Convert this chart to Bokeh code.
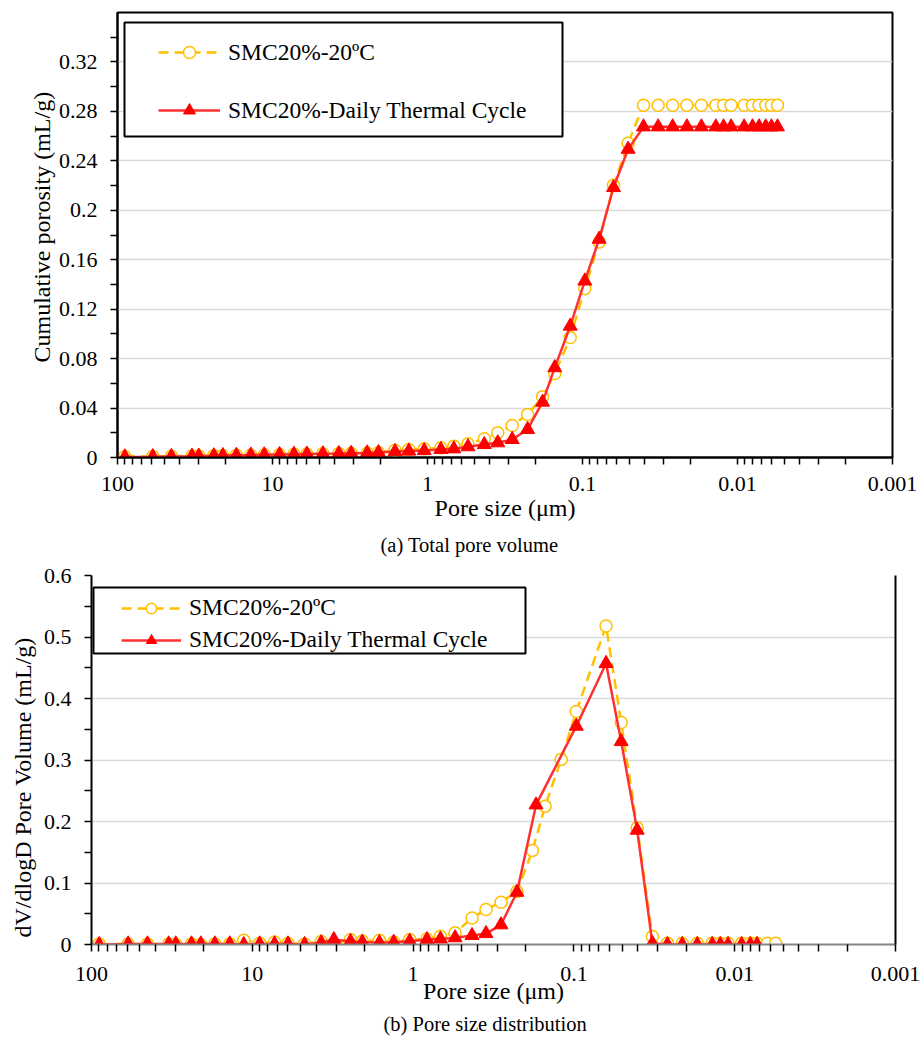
from bokeh.plotting import figure
from bokeh.models import (Range1d, FixedTicker, CustomJSTickFormatter, Legend, LegendItem,
                          Title, BoxAnnotation, LinearAxis)
from bokeh.embed import file_html
from bokeh.resources import INLINE

FONT = "Liberation Serif"
FONTQ = "'Liberation Serif'"
ORANGE = "#FFC000"
RED = "#FF0000"
RED_LINE = "#FF3030"

# ---------------- data ----------------
# pore diameters (um) of the MIP points
D_TOP = [89.6, 59.2, 44.9, 33.1, 29.9, 23.9, 20.9, 17.1, 13.8, 11.3, 9.0, 7.27, 6.0, 4.73,
         3.73, 3.11, 2.45, 2.07, 1.62, 1.32, 1.05, 0.82, 0.676, 0.548, 0.430, 0.352, 0.284,
         0.226, 0.181, 0.151, 0.120, 0.0966, 0.0781, 0.0631, 0.0508, 0.0404, 0.0325, 0.0262,
         0.0212, 0.0171, 0.0138, 0.0123, 0.0110, 0.00906, 0.00800, 0.00726, 0.00657, 0.00604,
         0.00552]

# (a) cumulative porosity (mL/g)
CUM_20C = [0.0008, 0.0009, 0.0011, 0.0012, 0.0013, 0.0015, 0.0016, 0.0018, 0.0020, 0.0022,
           0.0024, 0.0026, 0.0028, 0.0030, 0.0032, 0.0035, 0.0037, 0.0040, 0.0059, 0.0065,
           0.0070, 0.0079, 0.0092, 0.0111, 0.0151, 0.0200, 0.0259, 0.0348, 0.0491, 0.0680,
           0.0970, 0.1366, 0.1744, 0.2203, 0.2543, 0.2850, 0.2850, 0.2850, 0.2850, 0.2850,
           0.2850, 0.2850, 0.2850, 0.2850, 0.2850, 0.2850, 0.2850, 0.2850, 0.2850]
CUM_CYCLE = [0.0005, 0.0007, 0.0009, 0.0011, 0.0012, 0.0014, 0.0016, 0.0018, 0.0020, 0.0022,
             0.0024, 0.0026, 0.0028, 0.0030, 0.0032, 0.0034, 0.0037, 0.0040, 0.0048, 0.0052,
             0.0056, 0.0065, 0.0070, 0.0087, 0.0105, 0.0119, 0.0146, 0.0227, 0.0448, 0.0727,
             0.1063, 0.1428, 0.1766, 0.2184, 0.2494, 0.2675, 0.2675, 0.2675, 0.2675, 0.2675,
             0.2675, 0.2675, 0.2675, 0.2675, 0.2675, 0.2675, 0.2675, 0.2675, 0.2675]

# (b) pore size distribution dV/dlogD (mL/g)
D_PSD_20C = [89.6, 59.2, 44.9, 33.1, 29.9, 23.9, 20.9, 17.1, 13.8, 11.3, 9.0, 7.27, 6.0, 4.73,
             3.73, 3.11, 2.45, 2.07, 1.62, 1.32, 1.05, 0.82, 0.676, 0.548, 0.430, 0.352, 0.284,
             0.226, 0.181, 0.151, 0.120, 0.0966, 0.0631, 0.0508, 0.0404, 0.0325, 0.0262, 0.0212,
             0.0171, 0.0138, 0.0123, 0.0110, 0.00906, 0.00800, 0.00726, 0.00626, 0.00556]
PSD_20C = [0.001, 0.001, 0.001, 0.001, 0.000, 0.001, 0.000, 0.001, 0.001, 0.007, 0.002, 0.004,
           0.002, 0.001, 0.005, 0.000, 0.008, 0.0055, 0.007, 0.004, 0.008, 0.009, 0.0135, 0.019,
           0.043, 0.057, 0.0686, 0.086, 0.153, 0.225, 0.301, 0.379, 0.518, 0.361, 0.190, 0.013,
           0.002, 0.002, 0.002, 0.002, 0.002, 0.002, 0.002, 0.002, 0.002, 0.002, 0.002]
D_PSD_CYCLE = [89.6, 59.2, 44.9, 33.1, 29.9, 23.9, 20.9, 17.1, 13.8, 11.3, 9.0, 7.27, 6.0, 4.73,
               3.73, 3.11, 2.45, 2.07, 1.62, 1.32, 1.05, 0.82, 0.676, 0.548, 0.430, 0.352, 0.284,
               0.226, 0.172, 0.0966, 0.0631, 0.0508, 0.0404, 0.0325, 0.0262, 0.0212, 0.0171,
               0.0138, 0.0123, 0.0110, 0.00906, 0.00800, 0.00726]
PSD_CYCLE = [0.000, 0.001, 0.001, 0.001, 0.001, 0.001, 0.001, 0.001, 0.001, 0.000, 0.001, 0.001,
             0.001, 0.000, 0.003, 0.008, 0.005, 0.004, 0.003, 0.0037, 0.0053, 0.008, 0.009, 0.011,
             0.0146, 0.0178, 0.032, 0.085, 0.227, 0.355, 0.457, 0.330, 0.186, 0.002, 0.000,
             0.000, 0.000, 0.000, 0.000, 0.000, 0.000, 0.000, 0.000]

SERIES_NAMES = ["SMC20%-20ºC", "SMC20%-Daily Thermal Cycle"]
X_TICKS = [100, 10, 1, 0.1, 0.01, 0.001]
Y1_TICKS = [0, 0.04, 0.08, 0.12, 0.16, 0.2, 0.24, 0.28, 0.32]
Y2_TICKS = [0, 0.1, 0.2, 0.3, 0.4, 0.5, 0.6]

X_MINOR = [m * 10.0 ** k for k in range(-3, 2) for m in range(2, 10)]
Y1_MINOR = [round(0.02 + 0.04 * i, 2) for i in range(9)]
Y2_MINOR = [round(0.05 + 0.1 * i, 2) for i in range(6)]

fmt = "return tick.toString();"


def style_axis(ax, line_color="black"):
    ax.axis_line_color = line_color
    ax.axis_line_width = 2
    ax.major_tick_line_color = "black"
    ax.major_tick_line_width = 1.5
    ax.major_tick_in = 0
    ax.major_tick_out = 7
    ax.minor_tick_line_color = "black"
    ax.minor_tick_line_width = 1.5
    ax.minor_tick_in = 0
    ax.minor_tick_out = 7
    ax.major_label_text_font = FONT
    ax.major_label_text_font_size = "22px"
    ax.major_label_text_color = "black"
    ax.axis_label_text_font = FONT
    ax.axis_label_text_font_size = "24px"
    ax.axis_label_text_font_style = "normal"
    ax.axis_label_text_color = "black"


def make_panel(width, height, bl, br, bt, bb, ymax, yticks, yminor, xs_o, ys_o, xs_r, ys_r):
    p = figure(width=width, height=height, x_axis_type="log",
               x_range=Range1d(100, 0.001), y_range=Range1d(0, ymax),
               output_backend="svg", toolbar_location=None,
               min_border_left=bl, min_border_right=br, min_border_top=bt, min_border_bottom=bb)
    p.background_fill_color = "white"
    p.border_fill_color = "white"
    p.xaxis.ticker = FixedTicker(ticks=X_TICKS, minor_ticks=X_MINOR)
    p.xaxis.formatter = CustomJSTickFormatter(code=fmt)
    p.yaxis.ticker = FixedTicker(ticks=yticks, minor_ticks=yminor)
    p.yaxis.formatter = CustomJSTickFormatter(code=fmt)
    p.xgrid.visible = False
    p.ygrid.ticker = FixedTicker(ticks=yticks + [ymax])
    p.ygrid.grid_line_color = "#D9D9D9"
    p.ygrid.grid_line_width = 1.5
    p.yaxis.major_label_standoff = 13

    lo = p.line(xs_o, ys_o, line_color=ORANGE, line_width=2.5, line_dash="10 6")
    so = p.scatter(xs_o, ys_o, marker="circle", size=12, fill_color="white",
                   line_color=ORANGE, line_width=1.5)
    lr = p.line(xs_r, ys_r, line_color=RED_LINE, line_width=2.5)
    sr = p.scatter(xs_r, ys_r, marker="triangle", size=14, fill_color=RED,
                   line_color=RED, line_width=1)
    return p, [lo, so], [lr, sr]


def make_title(text, size, offset, standoff):
    return Title(text=text, align="left", offset=offset, standoff=standoff,
                 text_font=FONTQ, text_font_size=size, text_font_style="normal",
                 text_color="black", vertical_align="bottom")


# ---------------- panel (a) ----------------
p1, r1o, r1r = make_panel(921, 563, 117, 29, 12, 105, 0.36, Y1_TICKS, Y1_MINOR,
                          D_TOP, CUM_20C, D_TOP, CUM_CYCLE)
style_axis(p1.xaxis[0])
style_axis(p1.yaxis[0])
p1.xaxis.major_label_standoff = 12
p1.xaxis.axis_label = "Pore size (μm)"
p1.xaxis.axis_label_standoff = 1
p1.outline_line_color = "black"
p1.outline_line_width = 2
p1.outline_line_alpha = 1

box1 = BoxAnnotation(left=7, right=445, top=435, bottom=321,
                     left_units="screen", right_units="screen",
                     top_units="screen", bottom_units="screen",
                     fill_color="white", fill_alpha=1, line_color="black", line_width=2,
                     line_alpha=1)
p1.add_layout(box1)
leg1 = Legend(items=[LegendItem(label=SERIES_NAMES[0], renderers=r1o),
                     LegendItem(label=SERIES_NAMES[1], renderers=r1r)],
              location=(41, 332), orientation="vertical", glyph_width=62, glyph_height=30,
              label_height=30, label_standoff=8, spacing=28, padding=6, margin=0,
              border_line_color=None, background_fill_alpha=0,
              label_text_font=FONT, label_text_font_size="23.5px", label_text_color="black")
p1.add_layout(leg1)

p1.add_layout(make_title("Cumulative porosity (mL/g)", "24px", 95, 2), "left")
p1.add_layout(make_title("(a) Total pore volume", "20.5px", 263, 16), "below")

# ---------------- panel (b) ----------------
p2, r2o, r2r = make_panel(921, 476, 91, 26, 12, 94, 0.6, Y2_TICKS, Y2_MINOR,
                          D_PSD_20C, PSD_20C, D_PSD_CYCLE, PSD_CYCLE)
style_axis(p2.xaxis[0], line_color="#868686")
style_axis(p2.yaxis[0])
p2.xaxis.major_label_standoff = 15
p2.xaxis.axis_label = "Pore size (μm)"
p2.xaxis.axis_label_standoff = -6
p2.outline_line_color = None
right_ax = LinearAxis(ticker=FixedTicker(ticks=[]), axis_line_color="black", axis_line_width=2,
                      major_tick_line_color=None, minor_tick_line_color=None,
                      major_label_text_font_size="0px")
p2.add_layout(right_ax, "right")

box2 = BoxAnnotation(left=2, right=434, top=357, bottom=291,
                     left_units="screen", right_units="screen",
                     top_units="screen", bottom_units="screen",
                     fill_color="white", fill_alpha=1, line_color="black", line_width=2,
                     line_alpha=1)
p2.add_layout(box2)
leg2 = Legend(items=[LegendItem(label=SERIES_NAMES[0], renderers=r2o),
                     LegendItem(label=SERIES_NAMES[1], renderers=r2r)],
              location=(30, 291), orientation="vertical", glyph_width=60, glyph_height=26,
              label_height=26, label_standoff=8, spacing=5, padding=3, margin=0,
              border_line_color=None, background_fill_alpha=0,
              label_text_font=FONT, label_text_font_size="23.5px", label_text_color="black")
p2.add_layout(leg2)

p2.add_layout(make_title("dV/dlogD Pore Volume (mL/g)", "24px", 7, 10), "left")
p2.add_layout(make_title("(b) Pore size distribution", "20.5px", 292, 9), "below")

open("out.html", "w").write(file_html([p1, p2], INLINE))
